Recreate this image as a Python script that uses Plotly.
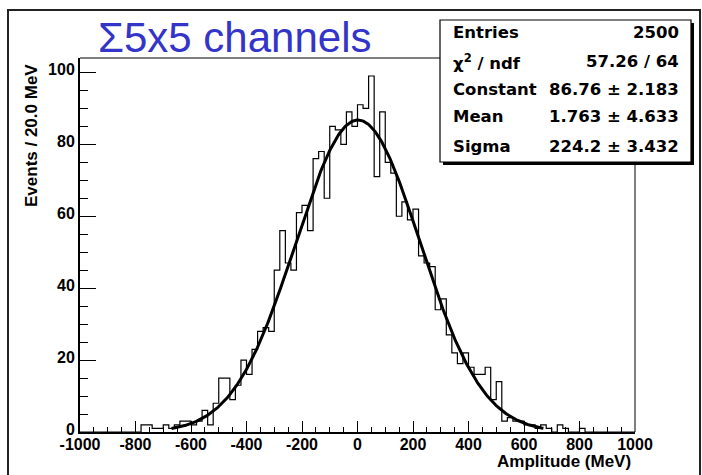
import numpy as np
import plotly.graph_objects as go

# Histogram: 100 bins of 20 MeV between -1000 and 1000 MeV
bin_low = -1000
bin_width = 20
counts = [
    0, 0, 0, 0, 0, 0, 0, 0, 0, 0,          # -1000 .. -820
    0, 2, 2, 1, 1, 2, 1, 2, 3, 3,          # -800 .. -620
    2, 3, 6, 2, 8, 15, 15, 9, 13, 20,      # -600 .. -420
    16, 23, 28, 29, 28, 45, 56, 47, 45, 61,  # -400 .. -220
    63, 56, 76, 78, 65, 85, 84, 80, 89, 85,  # -200 .. -20
    91, 90, 99, 71, 89, 75, 72, 60, 64, 59,  # 0 .. 180
    62, 49, 47, 46, 34, 37, 27, 22, 19, 22,  # 200 .. 380
    18, 16, 16, 18, 9, 14, 3, 4, 3, 3,      # 400 .. 580
    2, 2, 1, 2, 1, 0, 2, 1, 0, 0,          # 600 .. 780
    1, 0, 0, 0, 0, 0, 0, 0, 0, 0,          # 800 .. 980
]

# Gaussian fit results
fit_constant = 86.76
fit_mean = 1.763
fit_sigma = 224.2
fit_range = (-670, 670)

x_ticks = [-1000, -800, -600, -400, -200, 0, 200, 400, 600, 800, 1000]
y_ticks = [0, 20, 40, 60, 80, 100]

stats_labels = ["Entries", "\u03c7<sup>2</sup> / ndf", "Constant", "Mean", "Sigma"]
stats_values = ["2500", "57.26 / 64", "86.76 \u00b1 2.183",
                "1.763 \u00b1 4.633", "224.2 \u00b1 3.432"]

title_text = "\u03a35x5 channels"
x_title = "Amplitude (MeV)"
y_title = "Events / 20.0 MeV"

W, H = 702, 475
M_L, M_R, M_T, M_B = 80, 67, 58, 43
PW, PH = W - M_L - M_R, H - M_T - M_B


def px(x):
    return (x - M_L) / PW


def py(y):
    return (H - M_B - y) / PH


edges = bin_low + bin_width * np.arange(len(counts) + 1)
step_y = list(counts) + [counts[-1]]

fx = np.linspace(fit_range[0], fit_range[1], 400)
fy = fit_constant * np.exp(-0.5 * ((fx - fit_mean) / fit_sigma) ** 2)

fig = go.Figure()
fig.add_trace(go.Scatter(
    x=edges, y=step_y, mode="lines", line=dict(color="black", width=1.2, shape="hv"),
    hoverinfo="skip", showlegend=False,
))
fig.add_trace(go.Scatter(
    x=fx, y=fy, mode="lines", line=dict(color="black", width=3),
    hoverinfo="skip", showlegend=False,
))

FONT = "Liberation Sans, Arial, sans-serif"
WIDE = "DejaVu Sans, Verdana, sans-serif"
tick_font = dict(family=FONT, size=16, color="black", weight="bold")
title_font = dict(family=FONT, size=17, color="black", weight="bold")

fig.update_layout(
    width=W, height=H,
    margin=dict(l=M_L, r=M_R, t=M_T, b=M_B),
    paper_bgcolor="white", plot_bgcolor="white",
    showlegend=False,
    xaxis=dict(
        range=[-1000, 1000], tickvals=x_ticks, ticktext=[str(v) for v in x_ticks],
        ticks="inside", ticklen=11, tickwidth=1, tickcolor="black",
        showline=True, linecolor="black", linewidth=2,
        showgrid=False, zeroline=False, tickfont=tick_font,
        ticklabelstandoff=-3,
        minor=dict(dtick=50, tick0=0, ticks="inside", ticklen=5, tickwidth=1,
                   tickcolor="black", showgrid=False),
    ),
    yaxis=dict(
        range=[0, 104], tickvals=y_ticks, ticktext=[str(v) for v in y_ticks],
        ticks="inside", ticklen=16, tickwidth=1, tickcolor="black",
        showline=True, linecolor="black", linewidth=2,
        showgrid=False, zeroline=False, tickfont=tick_font,
        ticklabelshift=-3,
        minor=dict(dtick=5, tick0=0, ticks="inside", ticklen=8, tickwidth=1,
                   tickcolor="black", showgrid=False),
    ),
)

shapes = [
    # top and right edges of the frame
    dict(type="line", xref="paper", yref="paper", x0=0, x1=1, y0=1, y1=1,
         line=dict(color="black", width=1)),
    dict(type="line", xref="paper", yref="paper", x0=1, x1=1, y0=0, y1=1,
         line=dict(color="black", width=1)),
    # canvas border
    dict(type="rect", xref="paper", yref="paper", x0=px(8), x1=px(700), y0=py(490), y1=py(10),
         line=dict(color="#222222", width=2), fillcolor="rgba(0,0,0,0)"),
]

# statistics box with drop shadow
bx0, bx1, by0, by1 = 440, 691, 20, 162
shapes.append(dict(type="rect", xref="paper", yref="paper",
                   x0=px(bx0 + 3), x1=px(bx1 + 3), y0=py(by1 + 3), y1=py(by0 + 3),
                   line=dict(width=0), fillcolor="black", layer="above"))
shapes.append(dict(type="rect", xref="paper", yref="paper",
                   x0=px(bx0), x1=px(bx1), y0=py(by1), y1=py(by0),
                   line=dict(color="black", width=1.2), fillcolor="white", layer="above"))
fig.update_layout(shapes=shapes)

stat_font = dict(family=WIDE, size=16.5, color="black", weight="bold")
row_y = [33, 61.5, 89, 117, 146.5]
annotations = []
for lab, val, yy in zip(stats_labels, stats_values, row_y):
    annotations.append(dict(text=lab, xref="paper", yref="paper", x=px(451), y=py(yy),
                            xanchor="left", yanchor="middle", showarrow=False, font=stat_font))
    annotations.append(dict(text=val, xref="paper", yref="paper", x=px(681), y=py(yy),
                            xanchor="right", yanchor="middle", showarrow=False, font=stat_font))

annotations.append(dict(text=title_text, xref="paper", yref="paper", x=px(96), y=py(37),
                        xanchor="left", yanchor="middle", showarrow=False,
                        font=dict(family=FONT, size=42, color="#3434c8")))
annotations.append(dict(text=x_title, xref="paper", yref="paper", x=px(633), y=py(461),
                        xanchor="right", yanchor="middle", showarrow=False, font=title_font))
annotations.append(dict(text=y_title, xref="paper", yref="paper", x=px(31), y=py(136),
                        xanchor="center", yanchor="middle", textangle=-90, showarrow=False,
                        font=title_font))
fig.update_layout(annotations=annotations)

fig.write_html("out.html")
